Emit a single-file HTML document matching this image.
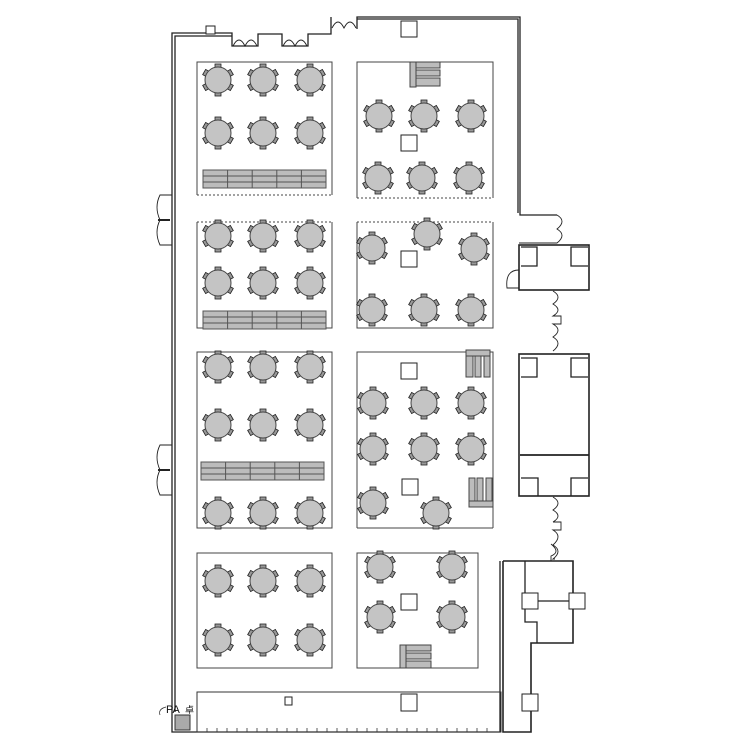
<!DOCTYPE html>
<html><head><meta charset="utf-8"><style>
html,body{margin:0;padding:0;background:#fff;}
svg{display:block;}
</style></head><body>
<svg width="750" height="750" viewBox="0 0 750 750" xmlns="http://www.w3.org/2000/svg">
<defs>
<g id="t">
  <g fill="#999" stroke="#222" stroke-width="0.8">
    <rect x="-3" y="-16" width="6" height="4"/>
    <rect x="-3" y="12" width="6" height="4"/>
    <rect x="-3" y="-16" width="6" height="4" transform="rotate(60)"/>
    <rect x="-3" y="-16" width="6" height="4" transform="rotate(120)"/>
    <rect x="-3" y="-16" width="6" height="4" transform="rotate(240)"/>
    <rect x="-3" y="-16" width="6" height="4" transform="rotate(300)"/>
  </g>
  <circle r="13" fill="#c4c4c4" stroke="#444" stroke-width="1"/>
</g>
<g id="bench">
  <rect x="0" y="0" width="123" height="18" fill="#bcbcbc" stroke="#555" stroke-width="1"/>
  <path d="M0 6H123M0 12H123M24.6 0V18M49.2 0V18M73.8 0V18M98.4 0V18" stroke="#555" stroke-width="1"/>
</g>
</defs>

<g fill="none" stroke="#222" stroke-width="1.3">
<path d="M172 712 V33 H232 V46 H258 V34 H282 V46 H308 V34 H331 V17"/>
<path d="M175 712 V36 H232"/>
<path d="M357 29 V17 H520 V215 H557"/>
<path d="M357 19 H518 V213"/>
<path d="M233 46 q6 -12 12 0 q6 -12 12 0" stroke-width="0.9"/>
<path d="M283 46 q6 -12 12 0 q6 -12 12 0" stroke-width="0.9"/>
<path d="M332 28 q6 -12 12 0 q6 -12 12 0" stroke-width="0.9"/>
<path d="M172 195 H160 q-6 12 0 25 q-6 12 0 25 H172" stroke-width="0.9"/>
<path d="M158 220 H170" stroke-width="2"/>
<path d="M172 445 H160 q-6 12 0 25 q-6 12 0 25 H172" stroke-width="0.9"/>
<path d="M158 470 H170" stroke-width="2"/>
<path d="M557 215 q10 6 0 14 q10 6 0 14 H519" stroke-width="0.9"/>
<path d="M553 291 q10 6 0 13 q10 6 0 12 H556 M553 316 h8 v8 h-8 q10 6 0 13 q10 6 0 14" stroke-width="0.9"/>
<path d="M553 497 q10 6 0 13 q10 6 0 12 M553 522 h8 v8 h-8 q10 6 0 15 q10 6 0 14 H555" stroke-width="0.9"/>
<rect x="519" y="245" width="70" height="45" stroke-width="1.6"/>
<path d="M521 247 H537 V266 H521 M588 247 H571 V266 H588"/>
<path d="M519 270 q-14 0 -12 18 H519" stroke-width="0.9"/>
<rect x="519" y="354" width="70" height="142" stroke-width="1.6"/>
<path d="M520 455 H589" stroke-width="1.8"/>
<path d="M521 358 H537 V377 H521 M588 358 H571 V377 H588"/>
<path d="M521 478 H538 V496 M588 478 H571 V496"/>
<path d="M503 561 V732 H531 V643 H573 V561 H503" stroke-width="1.6"/>
<path d="M500 561 V732 H172 V712"/>
<path d="M525 561 V622 H537 V643"/>
<path d="M538 601 H569"/>
<path d="M551 561 v-5 q10 -4 0 -12" stroke-width="0.9"/>
</g>
<g fill="#fff" stroke="#222" stroke-width="1">
<rect x="522" y="593" width="16" height="16"/>
<rect x="569" y="593" width="16" height="16"/>
<rect x="522" y="694" width="16" height="17"/>
<rect x="206" y="26" width="9" height="8"/>
<rect x="401" y="21" width="16" height="16"/>
</g>

<rect x="197" y="692" width="304" height="40" fill="none" stroke="#333" stroke-width="1"/>
<path d="M197 732 V728 M207 732 V728 M217 732 V728 M227 732 V728 M237 732 V728 M247 732 V728 M257 732 V728 M267 732 V728 M277 732 V728 M287 732 V728 M297 732 V728 M307 732 V728 M317 732 V728 M327 732 V728 M337 732 V728 M347 732 V728 M357 732 V728 M367 732 V728 M377 732 V728 M387 732 V728 M397 732 V728 M407 732 V728 M417 732 V728 M427 732 V728 M437 732 V728 M447 732 V728 M457 732 V728 M467 732 V728 M477 732 V728 M487 732 V728" stroke="#333" stroke-width="0.8"/>
<rect x="285" y="697" width="7" height="8" fill="#fff" stroke="#222"/>
<rect x="401" y="694" width="16" height="17" fill="#fff" stroke="#222"/>
<text x="166" y="713" font-family="Liberation Sans, sans-serif" font-size="11" fill="#111">PA</text>
<text x="185" y="713" font-family="Liberation Sans, sans-serif" font-size="9" fill="#111">卓</text>
<path d="M166 707 q-8 2 -6 8" fill="none" stroke="#222" stroke-width="0.7"/>
<rect x="175" y="715" width="15" height="15" fill="#aaa" stroke="#333"/>

<g fill="none" stroke="#444" stroke-width="1">
<path d="M197 195 V62 H332 V195"/>
<path d="M197 195 H332" stroke-dasharray="2,2"/>
<path d="M197 222 V328 H332 V222"/>
<path d="M197 222 H332" stroke-dasharray="2,2"/>
<rect x="197" y="352" width="135" height="176"/>
<rect x="197" y="553" width="135" height="115"/>
<path d="M357 198 V62 H493 V198"/>
<path d="M357 198 H493" stroke-dasharray="2,2"/>
<path d="M357 222 V328 H493 V222"/>
<path d="M357 222 H493" stroke-dasharray="2,2"/>
<path d="M357 528 V352 H493 V528"/>
<path d="M357 528 H493"/>
<rect x="357" y="553" width="121" height="115"/>
</g>

<use href="#bench" x="203" y="170"/>
<use href="#bench" x="203" y="311"/>
<use href="#bench" x="201" y="462"/>

<g fill="#bcbcbc" stroke="#444" stroke-width="1">
<rect x="410" y="62" width="6" height="25"/><rect x="416" y="62" width="24" height="6"/><rect x="416" y="70" width="24" height="6"/><rect x="416" y="78" width="24" height="8"/>
<rect x="400" y="645" width="6" height="23"/><rect x="406" y="645" width="25" height="6"/><rect x="406" y="653" width="25" height="6"/><rect x="406" y="661" width="25" height="7"/>
<rect x="466" y="350" width="24" height="6"/><rect x="466" y="356" width="7" height="21"/><rect x="475" y="356" width="6" height="21"/><rect x="484" y="356" width="6" height="21"/>
<rect x="469" y="478" width="6" height="23"/><rect x="477" y="478" width="6" height="23"/><rect x="486" y="478" width="6" height="23"/><rect x="469" y="501" width="24" height="6"/>
</g>

<g fill="#fff" stroke="#222" stroke-width="1">
<rect x="401" y="135" width="16" height="16"/>
<rect x="401" y="251" width="16" height="16"/>
<rect x="401" y="363" width="16" height="16"/>
<rect x="402" y="479" width="16" height="16"/>
<rect x="401" y="594" width="16" height="16"/>
</g>

<use href="#t" x="218" y="80"/><use href="#t" x="263" y="80"/><use href="#t" x="310" y="80"/>
<use href="#t" x="218" y="133"/><use href="#t" x="263" y="133"/><use href="#t" x="310" y="133"/>
<use href="#t" x="218" y="236"/><use href="#t" x="263" y="236"/><use href="#t" x="310" y="236"/>
<use href="#t" x="218" y="283"/><use href="#t" x="263" y="283"/><use href="#t" x="310" y="283"/>
<use href="#t" x="218" y="367"/><use href="#t" x="263" y="367"/><use href="#t" x="310" y="367"/>
<use href="#t" x="218" y="425"/><use href="#t" x="263" y="425"/><use href="#t" x="310" y="425"/>
<use href="#t" x="218" y="513"/><use href="#t" x="263" y="513"/><use href="#t" x="310" y="513"/>
<use href="#t" x="218" y="581"/><use href="#t" x="263" y="581"/><use href="#t" x="310" y="581"/>
<use href="#t" x="218" y="640"/><use href="#t" x="263" y="640"/><use href="#t" x="310" y="640"/>

<use href="#t" x="379" y="116"/><use href="#t" x="424" y="116"/><use href="#t" x="471" y="116"/>
<use href="#t" x="378" y="178"/><use href="#t" x="422" y="178"/><use href="#t" x="469" y="178"/>
<use href="#t" x="372" y="248"/><use href="#t" x="427" y="234"/><use href="#t" x="474" y="249"/>
<use href="#t" x="372" y="310"/><use href="#t" x="424" y="310"/><use href="#t" x="471" y="310"/>
<use href="#t" x="373" y="403"/><use href="#t" x="424" y="403"/><use href="#t" x="471" y="403"/>
<use href="#t" x="373" y="449"/><use href="#t" x="424" y="449"/><use href="#t" x="471" y="449"/>
<use href="#t" x="373" y="503"/><use href="#t" x="436" y="513"/>
<use href="#t" x="380" y="567"/><use href="#t" x="452" y="567"/>
<use href="#t" x="380" y="617"/><use href="#t" x="452" y="617"/>
</svg>
</body></html>
